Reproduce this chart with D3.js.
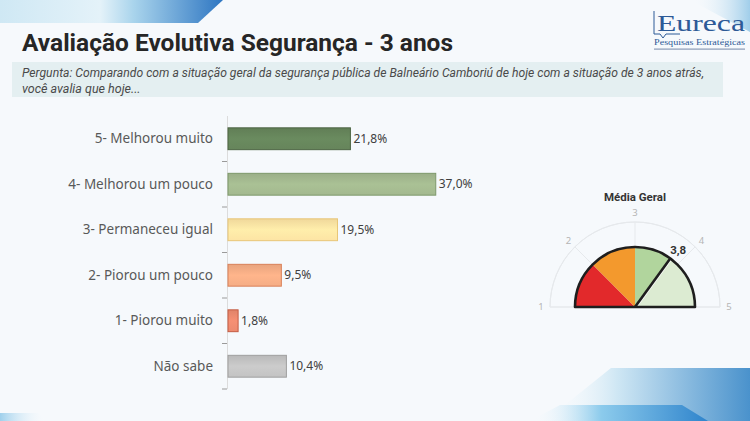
<!DOCTYPE html>
<html>
<head>
<meta charset="utf-8">
<script src="https://cdn.jsdelivr.net/npm/d3@7"></script>
<style>
  html, body { margin: 0; padding: 0; background: #f6f9fc; }
  svg { display: block; }
</style>
</head>
<body>
<div id="chart"></div>
<script>
// dados
const categorias = ["5- Melhorou muito", "4- Melhorou um pouco", "3- Permaneceu igual",
                    "2- Piorou um pouco", "1- Piorou muito", "Não sabe"];
const percentuais = [21.8, 37.0, 19.5, 9.5, 1.8, 10.4];
const coresBarras = ["#66855b", "#a3b98f", "#fde4a4", "#f5ad85", "#ec8a6f", "#c3c3c3"];
const bordasBarras = ["#4c6443", "#7d986a", "#e8c677", "#d98058", "#c45c44", "#9f9f9f"];

const gaugeTicks = [1, 2, 3, 4, 5];
const mediaGeral = 3.8;
const gaugeLimites = [1, 2, 3, mediaGeral, 5];
const gaugeCores = ["#e2292b", "#f3992d", "#b1d59d", "#dcebd2"];

const titulo = "Avaliação Evolutiva Segurança - 3 anos";
const pergunta = ["Pergunta: Comparando com a situação geral da segurança pública de Balneário Camboriú de hoje com a situação de 3 anos atrás,",
                  "você avalia que hoje..."];

const W = 750, H = 421;
const svg = d3.select("#chart").append("svg")
    .attr("width", W).attr("height", H);

const defs = svg.append("defs");

function grad(id, stops, x2, y2) {
    const g = defs.append("linearGradient").attr("id", id)
        .attr("x1", 0).attr("y1", 0).attr("x2", x2).attr("y2", y2);
    stops.forEach(s => g.append("stop").attr("offset", s[0])
        .attr("stop-color", s[1]).attr("stop-opacity", s[2] == null ? 1 : s[2]));
}

// fundo
svg.append("rect").attr("width", W).attr("height", H).attr("fill", "#f6f9fc");

grad("gTopLeft", [[0, "#cfe8f4"], [0.45, "#e4f2f9"], [0.6, "#a9d4ec"], [1, "#2e76c2"]], 1, 0);
svg.append("path").attr("d", "M0,0 L223,0 L198,23 L0,23 Z").attr("fill", "url(#gTopLeft)");

grad("gTopRight", [[0, "#ffffff", 0], [1, "#7fbde3", 0.9]], 1, 0);
svg.append("path").attr("d", "M690,0 L750,0 L750,32 Z").attr("fill", "url(#gTopRight)").attr("opacity", 0.8);

grad("gBotR1", [[0, "#ffffff", 0], [0.35, "#cfe7f4"], [1, "#4a92cc"]], 1, 0);
svg.append("path").attr("d", "M611,368 L750,368 L750,421 L545,421 Z").attr("fill", "url(#gBotR1)");
grad("gBotR2", [[0, "#ffffff", 0], [0.4, "#8ccbec"], [1, "#2f84cc"]], 1, 0);
svg.append("path").attr("d", "M560,405 L682,405 L708,421 L530,421 Z").attr("fill", "url(#gBotR2)");

grad("gBotL", [[0, "#9fd0ec"], [1, "#ffffff", 0]], 1, 0);
svg.append("path").attr("d", "M0,413 L38,413 L48,421 L0,421 Z").attr("fill", "url(#gBotL)");

// titulo
svg.append("text")
    .attr("x", 22).attr("y", 51)
    .attr("font-family", "Roboto, 'Noto Sans', sans-serif")
    .attr("font-weight", 700).attr("font-size", 24)
    .attr("fill", "#262626")
    .attr("textLength", 431).attr("lengthAdjust", "spacingAndGlyphs")
    .text(titulo);

// logo
const logo = svg.append("g");
logo.append("path")
    .attr("d", "M654,11 L654,34 L660,34 L663,38 L666,34 L680,34")
    .attr("fill", "none").attr("stroke", "#2d5a97").attr("stroke-width", 1);
logo.append("text")
    .attr("x", 657).attr("y", 31)
    .attr("font-family", "'Liberation Serif', 'DejaVu Serif', serif")
    .attr("font-size", 24).attr("fill", "#2d5a97")
    .attr("textLength", 88).attr("lengthAdjust", "spacingAndGlyphs")
    .text("Eureca");
logo.append("text")
    .attr("x", 654).attr("y", 45)
    .attr("font-family", "'Liberation Serif', 'DejaVu Serif', serif")
    .attr("font-size", 9).attr("fill", "#2d5a97")
    .attr("textLength", 91).attr("lengthAdjust", "spacingAndGlyphs")
    .text("Pesquisas Estratégicas");
logo.append("rect").attr("x", 654).attr("y", 48.5).attr("width", 91).attr("height", 1.2)
    .attr("fill", "#8a9bb5");

// pergunta
svg.append("rect").attr("x", 12).attr("y", 62).attr("width", 711).attr("height", 35)
    .attr("fill", "#e4eff1");
svg.selectAll(".pergunta").data(pergunta).enter().append("text")
    .attr("class", "pergunta")
    .attr("x", 22).attr("y", (d, i) => 77 + i * 16)
    .attr("font-family", "Roboto, 'Noto Sans', sans-serif")
    .attr("font-style", "italic").attr("font-size", 12.5)
    .attr("fill", "#4a4a4a")
    .attr("textLength", (d, i) => i == 0 ? 682 : null)
    .attr("lengthAdjust", "spacingAndGlyphs")
    .text(d => d);

// barras
const x0 = 228;
const xScale = d3.scaleLinear().domain([0, 40]).range([x0, x0 + 224.6]);
const yScale = d3.scaleBand().domain(categorias).range([116, 389])
    .paddingInner(0.52).paddingOuter(0.26);

const dados = categorias.map((c, i) => ({cat: c, val: percentuais[i], cor: coresBarras[i], borda: bordasBarras[i], i: i}));

dados.forEach(d => {
    const g = defs.append("linearGradient").attr("id", "bar" + d.i)
        .attr("x1", 0).attr("y1", 0).attr("x2", 0).attr("y2", 1);
    g.append("stop").attr("offset", 0).attr("stop-color", d3.color(d.cor).darker(0.15));
    g.append("stop").attr("offset", 0.5).attr("stop-color", d3.color(d.cor).brighter(0.12));
    g.append("stop").attr("offset", 1).attr("stop-color", d.cor);
});

// eixo
const eixo = svg.append("g").attr("class", "axis");
eixo.append("line").attr("x1", x0 - 0.5).attr("x2", x0 - 0.5)
    .attr("y1", 116).attr("y2", 389).attr("stroke", "#dcdcdc");
const fronteiras = d3.range(categorias.length + 1).map(i => 116 + i * yScale.step());
eixo.selectAll(".tk").data(fronteiras.slice(1)).enter().append("line")
    .attr("x1", x0 - 6).attr("x2", x0 - 1).attr("y1", d => d).attr("y2", d => d)
    .attr("stroke", "#9a9a9a");

svg.selectAll(".bar").data(dados).enter().append("rect")
    .attr("class", "bar")
    .attr("x", x0)
    .attr("y", d => yScale(d.cat))
    .attr("width", d => xScale(d.val) - x0)
    .attr("height", yScale.bandwidth())
    .attr("fill", d => "url(#bar" + d.i + ")")
    .attr("stroke", d => d.borda).attr("stroke-width", 1);

svg.selectAll(".cat").data(dados).enter().append("text")
    .attr("class", "cat")
    .attr("x", 213).attr("y", d => yScale(d.cat) + yScale.bandwidth() / 2)
    .attr("dy", "0.35em").attr("text-anchor", "end")
    .attr("font-family", "'Noto Sans', sans-serif").attr("font-size", 13.5)
    .attr("fill", "#595959")
    .text(d => d.cat);

svg.selectAll(".val").data(dados).enter().append("text")
    .attr("class", "val")
    .attr("x", d => xScale(d.val) + 3).attr("y", d => yScale(d.cat) + yScale.bandwidth() / 2)
    .attr("dy", "0.35em")
    .attr("font-family", "'Noto Sans', sans-serif").attr("font-size", 12)
    .attr("fill", "#404040")
    .text(d => d3.format(".1f")(d.val).replace(".", ",") + "%");

// gauge
const cx = 635, cy = 307;
const rGauge = 60, rGrade = 85, rRotulo = 94;
const ang = d3.scaleLinear().domain([1, 5]).range([-Math.PI / 2, Math.PI / 2]);
const gauge = svg.append("g").attr("transform", `translate(${cx},${cy})`);

svg.append("text").attr("x", cx).attr("y", 201).attr("text-anchor", "middle")
    .attr("font-family", "Roboto, 'Noto Sans', sans-serif").attr("font-weight", 700)
    .attr("font-size", 11.5).attr("fill", "#333")
    .text("Média Geral");

const pt = (v, r) => [Math.sin(ang(v)) * r, -Math.cos(ang(v)) * r];

gauge.append("path")
    .attr("d", d3.arc()({innerRadius: rGrade, outerRadius: rGrade, startAngle: ang(1), endAngle: ang(5)}))
    .attr("fill", "none").attr("stroke", "#e6e9ec").attr("stroke-width", 1);
gauge.append("line").attr("x1", -rGrade).attr("x2", rGrade).attr("y1", 0).attr("y2", 0)
    .attr("stroke", "#e6e9ec");
gauge.selectAll(".spoke").data(gaugeTicks).enter().append("line")
    .attr("x1", 0).attr("y1", 0)
    .attr("x2", d => pt(d, rGrade)[0]).attr("y2", d => pt(d, rGrade)[1])
    .attr("stroke", "#e6e9ec");
gauge.selectAll(".gtick").data(gaugeTicks).enter().append("text")
    .attr("x", d => pt(d, rRotulo)[0]).attr("y", d => pt(d, rRotulo)[1])
    .attr("dy", "0.35em").attr("text-anchor", "middle")
    .attr("font-family", "'Noto Sans', sans-serif").attr("font-size", 9.5)
    .attr("fill", "#b5b5b5")
    .text(d => d);

const segmentos = gaugeCores.map((c, i) => ({a: gaugeLimites[i], b: gaugeLimites[i + 1], cor: c}));
const arcoG = d3.arc().innerRadius(0).outerRadius(rGauge);
gauge.selectAll(".seg").data(segmentos).enter().append("path")
    .attr("d", d => arcoG({startAngle: ang(d.a), endAngle: ang(d.b)}))
    .attr("fill", d => d.cor);

// agulha
const pm = pt(mediaGeral, rGauge);
gauge.append("line").attr("x1", 1.5).attr("y1", 0).attr("x2", pm[0] + 1.5).attr("y2", pm[1])
    .attr("stroke", "#ffffff").attr("stroke-width", 1.5);
gauge.append("line").attr("x1", 0).attr("y1", 0).attr("x2", pm[0]).attr("y2", pm[1])
    .attr("stroke", "#1e1e1e").attr("stroke-width", 2.6);

gauge.append("path")
    .attr("d", d3.arc()({innerRadius: 0, outerRadius: rGauge, startAngle: ang(1), endAngle: ang(5)}))
    .attr("fill", "none").attr("stroke", "#1e1e1e").attr("stroke-width", 2.6)
    .attr("stroke-linejoin", "round");

const pl = pt(mediaGeral, 70);
gauge.append("text").attr("x", pl[0] + 2).attr("y", pl[1])
    .attr("dy", "0.35em").attr("text-anchor", "middle")
    .attr("font-family", "Roboto, 'Noto Sans', sans-serif").attr("font-weight", 700)
    .attr("font-size", 11.5).attr("fill", "#333")
    .text(d3.format(".1f")(mediaGeral).replace(".", ","));
</script>
</body>
</html>
